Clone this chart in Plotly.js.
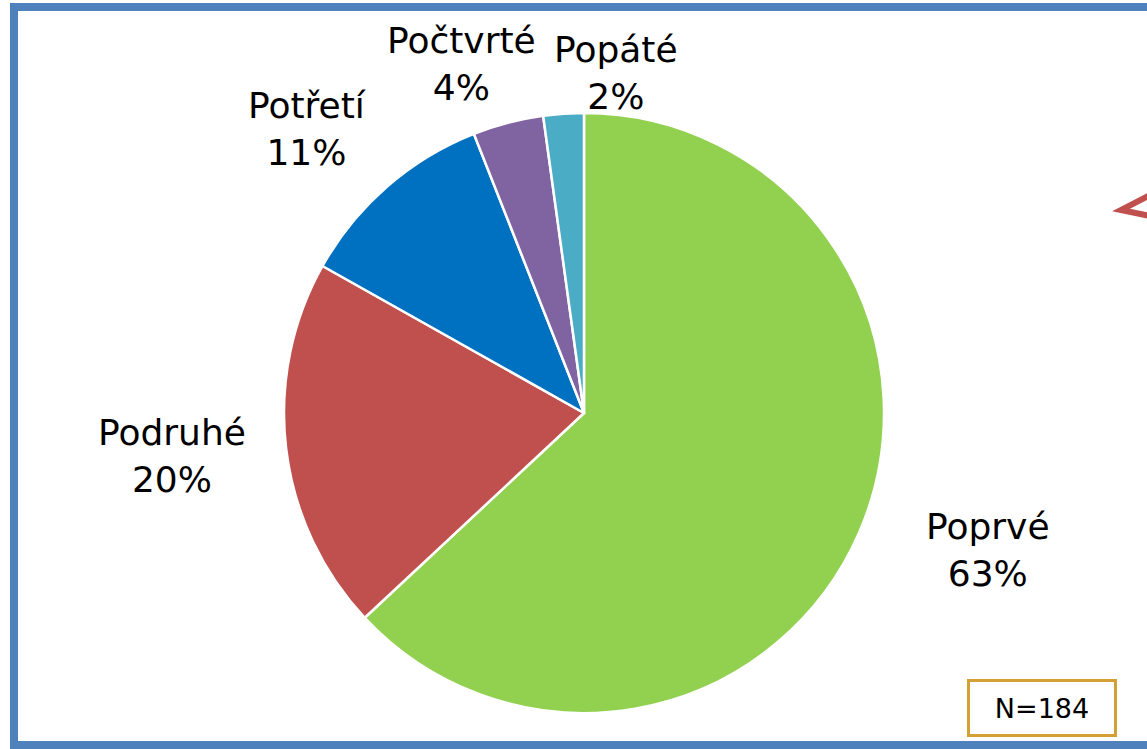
<!DOCTYPE html>
<html>
<head>
<meta charset="utf-8">
<script src="https://cdn.plot.ly/plotly-3.0.1.min.js"></script>
<style>
html,body{margin:0;padding:0;background:#fff;}
#chart{width:1147px;height:749px;}
</style>
</head>
<body>
<div id="chart"></div>
<script>
const categories = ["Poprvé", "Podruhé", "Potřetí", "Počtvrté", "Popáté"];
const counts = [116, 37, 20, 7, 4];
const colors = ["#92D050", "#C0504D", "#0070C0", "#8064A2", "#4BACC6"];
const sampleNote = "N=184";

const W = 1147, H = 749;
const cx = 584, cy = 413, r = 300;

// label placement (pixel centres of each label block), layout only
const labelPos = [[988, 550], [172, 456], [307, 129], [461, 64], [616, 73]];

const total = counts.reduce((a, b) => a + b, 0);

const trace = {
  type: "pie",
  labels: categories,
  values: counts,
  sort: false,
  direction: "clockwise",
  rotation: 0,
  marker: {colors: colors, line: {color: "#ffffff", width: 2.5}},
  textinfo: "none",
  showlegend: false,
  hoverinfo: "none",
  domain: {
    x: [(cx - r) / W, (cx + r) / W],
    y: [(H - cy - r) / H, (H - cy + r) / H]
  }
};

const labelAnnots = categories.map((c, i) => ({
  xref: "paper", yref: "paper",
  x: labelPos[i][0] / W, y: 1 - labelPos[i][1] / H,
  xanchor: "center", yanchor: "middle",
  text: c + "<br>" + Math.round(counts[i] / total * 100) + "%",
  showarrow: false,
  font: {family: "DejaVu Sans", size: 36, color: "#000000"}
}));

const layout = {
  width: W,
  height: H,
  margin: {l: 0, r: 0, t: 0, b: 0},
  paper_bgcolor: "#ffffff",
  showlegend: false,
  font: {family: "DejaVu Sans", color: "#000000"},
  shapes: [
    {type: "rect", xref: "paper", yref: "paper",
     x0: 14 / W, x1: 1.2, y0: 1 - 745 / H, y1: 1 - 7 / H,
     line: {color: "#4F81BD", width: 8}, fillcolor: "rgba(0,0,0,0)"},
    {type: "path", xref: "paper", yref: "paper",
     path: "M " + (1150 / W) + " " + (1 - 195 / H) + " L " + (1121 / W) + " " + (1 - 210 / H) + " L " + (1150 / W) + " " + (1 - 216 / H),
     line: {color: "#C0504D", width: 6}}
  ],
  annotations: labelAnnots.concat([
    {xref: "paper", yref: "paper", x: 1042 / W, y: 1 - 708 / H,
     xanchor: "center", yanchor: "middle",
     text: sampleNote, showarrow: false,
     font: {family: "DejaVu Sans", size: 27, color: "#000000"},
     bordercolor: "#D4A033", borderwidth: 3, borderpad: 10,
     width: 124, height: 32, bgcolor: "#ffffff"}
  ])
};

Plotly.newPlot("chart", [trace], layout, {displayModeBar: false, staticPlot: true});
</script>
</body>
</html>
